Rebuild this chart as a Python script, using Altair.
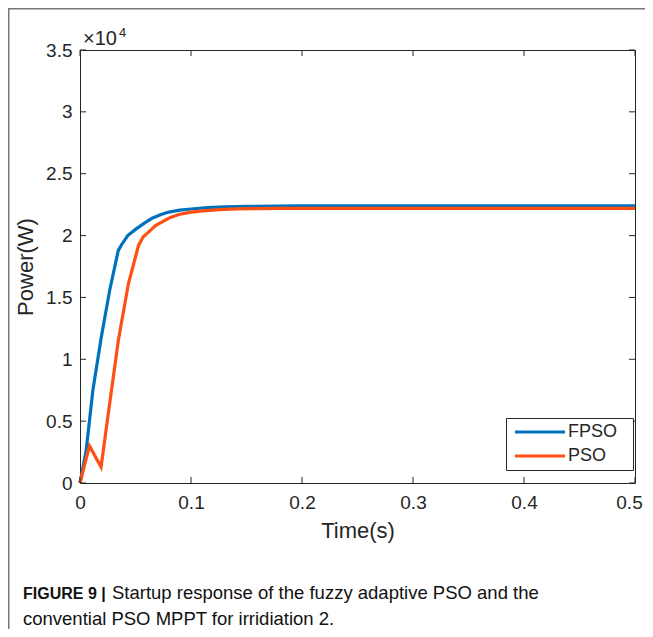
import altair as alt
import pandas as pd

# ---- data ----
t_fpso = [0, 0.0055, 0.0116, 0.0192, 0.0268, 0.0345, 0.037, 0.043, 0.050, 0.058, 0.065,
          0.073, 0.080, 0.090, 0.100, 0.115, 0.130, 0.150, 0.175, 0.2, 0.3, 0.4, 0.5]
p_fpso = [0, 0.26, 0.75, 1.18, 1.56, 1.88, 1.92, 2.00, 2.05, 2.10, 2.14,
          2.17, 2.19, 2.205, 2.215, 2.226, 2.232, 2.236, 2.238, 2.24, 2.24, 2.24, 2.24]
t_pso = [0, 0.0085, 0.019, 0.025, 0.0345, 0.0436, 0.0527, 0.057, 0.062, 0.068, 0.074,
         0.081, 0.089, 0.100, 0.111, 0.125, 0.141, 0.160, 0.18, 0.2, 0.3, 0.4, 0.5]
p_pso = [0, 0.30, 0.13, 0.53, 1.15, 1.61, 1.92, 1.99, 2.03, 2.08, 2.11,
         2.145, 2.17, 2.19, 2.20, 2.21, 2.215, 2.218, 2.22, 2.22, 2.22, 2.22, 2.22]
series = ["FPSO", "PSO"]
colors = ["#0072BD", "#FF4F12"]
x_ticks = [0, 0.1, 0.2, 0.3, 0.4, 0.5]
y_ticks = [0, 0.5, 1, 1.5, 2, 2.5, 3, 3.5]
x_title = "Time(s)"
y_title = "Power(W)"
exp_base = "×10"
exp_power = "4"
caption_bold = "FIGURE 9 |"
caption_line1 = "Startup response of the fuzzy adaptive PSO and the"
caption_line2 = "convential PSO MPPT for irridiation 2."

W, H = 555, 433
PAD = {"left": 72, "top": 42, "right": 10, "bottom": 146}
FONT = "Liberation Sans"
INK = "#262626"

df = pd.concat([
    pd.DataFrame({"t": t_fpso, "p": p_fpso, "series": series[0]}),
    pd.DataFrame({"t": t_pso, "p": p_pso, "series": series[1]}),
])

xs = alt.Scale(domain=[0, 0.5], nice=False, zero=False)
ys = alt.Scale(domain=[0, 3.5], nice=False)

last_x = x_ticks[-1]
lines = alt.Chart(df).mark_line(strokeWidth=3.2).encode(
    x=alt.X("t:Q", scale=xs, axis=alt.Axis(values=x_ticks, format="~g", title=x_title,
                                            labelPadding=10, titlePadding=8, labelFlush=False,
                                            labelOverlap=False,
                                            labelOffset={"condition": {"test": f"datum.value == {last_x}",
                                                                       "value": -6},
                                                         "value": 0})),
    y=alt.Y("p:Q", scale=ys, axis=alt.Axis(values=y_ticks, format="~g", title=y_title,
                                            labelPadding=8, titlePadding=8, labelOverlap=False)),
    color=alt.Color("series:N", scale=alt.Scale(domain=series, range=colors),
                    legend=alt.Legend(title=None, orient="none", legendX=426, legendY=368,
                                      symbolType="M-1,0H9", symbolSize=100, symbolStrokeWidth=3,
                                      labelFontSize=18, labelFont=FONT, labelColor=INK,
                                      labelExpr="datum.label + '\u00a0\u00a0\u200b'",
                                      strokeColor=INK, fillColor="white", padding=5,
                                      labelOffset=39, rowPadding=6)),
)

xt = pd.DataFrame({"t": x_ticks})
yt = pd.DataFrame({"p": y_ticks})
tick_style = dict(color=INK, strokeWidth=1)
xb = alt.Chart(xt).mark_rule(**tick_style).encode(x=alt.X("t:Q", scale=xs), y=alt.value(H), y2=alt.value(H - 6))
xtop = alt.Chart(xt).mark_rule(**tick_style).encode(x=alt.X("t:Q", scale=xs), y=alt.value(0), y2=alt.value(6))
yl = alt.Chart(yt).mark_rule(**tick_style).encode(y=alt.Y("p:Q", scale=ys), x=alt.value(0), x2=alt.value(6))
yr = alt.Chart(yt).mark_rule(**tick_style).encode(y=alt.Y("p:Q", scale=ys), x=alt.value(W), x2=alt.value(W - 6))

txt = lambda s: pd.DataFrame({"s": [s]})
exp1 = alt.Chart(txt(exp_base)).mark_text(font=FONT, fontSize=20, color=INK, align="left",
                                           baseline="alphabetic").encode(
    text="s:N", x=alt.value(3), y=alt.value(-5))
exp2 = alt.Chart(txt(exp_power)).mark_text(font=FONT, fontSize=13, color=INK, align="left",
                                            baseline="alphabetic").encode(
    text="s:N", x=alt.value(39), y=alt.value(-13))

cap0 = alt.Chart(txt(caption_bold)).mark_text(font=FONT, fontSize=16, fontWeight="bold", color="#111",
                                              align="left", baseline="alphabetic").encode(
    text="s:N", x=alt.value(-57), y=alt.value(549))
cap1 = alt.Chart(txt(caption_line1)).mark_text(font=FONT, fontSize=18.5, color="#111",
                                               align="left", baseline="alphabetic").encode(
    text="s:N", x=alt.value(32), y=alt.value(549))
cap2 = alt.Chart(txt(caption_line2)).mark_text(font=FONT, fontSize=18.5, color="#111",
                                               align="left", baseline="alphabetic").encode(
    text="s:N", x=alt.value(-57), y=alt.value(575))

frame_top = alt.Chart(txt("")).mark_rule(color="#777", strokeWidth=1.5).encode(
    x=alt.value(-72), x2=alt.value(W + PAD["right"]), y=alt.value(-41.25))
frame_left = alt.Chart(txt("")).mark_rule(color="#777", strokeWidth=1.5).encode(
    x=alt.value(-71.25), y=alt.value(-42), y2=alt.value(H + PAD["bottom"]))

chart = alt.layer(
    frame_top, frame_left, lines, xb, xtop, yl, yr, exp1, exp2, cap0, cap1, cap2
).properties(
    width=W, height=H,
    background="white",
    autosize=alt.AutoSizeParams(type="none"),
    padding=PAD,
).configure_view(
    stroke=INK, strokeWidth=1
).configure_axis(
    labelFont=FONT, titleFont=FONT, labelFontSize=19, titleFontSize=22,
    titleFontWeight="normal", labelColor=INK, titleColor=INK,
    grid=False, domain=False, ticks=False
)

chart.save("out.html", embed_options={"renderer": "svg", "actions": False})
